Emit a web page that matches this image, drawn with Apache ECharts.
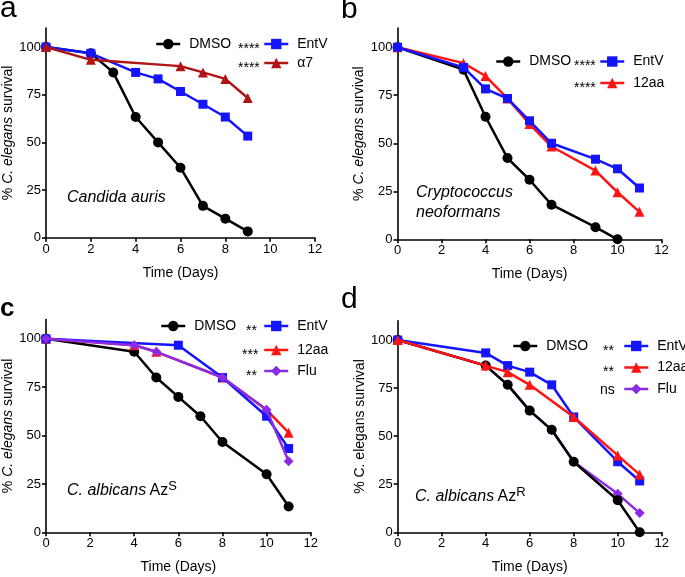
<!DOCTYPE html>
<html><head><meta charset="utf-8">
<script src="https://cdn.jsdelivr.net/npm/echarts@6/dist/echarts.min.js"></script>
<style>html,body{margin:0;padding:0;background:#fff}#c{width:685px;height:577px}</style>
</head><body><div id="c"></div>
<script>
// ---- tick labels ----
const xTicks = [0, 2, 4, 6, 8, 10, 12];
const yTicks = [0, 25, 50, 75, 100];

// ---- panel a : Candida auris ----
const aDmsoX = [0, 2, 3, 4, 5, 6, 7, 8, 9];
const aDmsoY = [100, 96.7, 86.7, 63.3, 50, 36.7, 16.7, 10, 3.3];
const aEntvX = [0, 2, 4, 5, 6, 7, 8, 9];
const aEntvY = [100, 96.7, 86.7, 83.3, 76.7, 70, 63.3, 53.3];
const aA7X = [0, 2, 6, 7, 8, 9];
const aA7Y = [100, 93.3, 90, 86.7, 83.3, 73.3];

// ---- panel b : Cryptococcus neoformans ----
const bDmsoX = [0, 3, 4, 5, 6, 7, 9, 10];
const bDmsoY = [100, 88.3, 63.8, 42.3, 31, 18, 6.3, 0];
const bEntvX = [0, 3, 4, 5, 6, 7, 9, 10, 11];
const bEntvY = [100, 89.5, 78.3, 73.3, 61.7, 50, 41.7, 36.7, 26.7];
const b12aaX = [0, 3, 4, 5, 6, 7, 9, 10, 11];
const b12aaY = [100, 91.7, 85, 73.3, 60, 48.3, 35.8, 24.5, 14.3];

// ---- panel c : C. albicans AzS ----
const cDmsoX = [0, 4, 5, 6, 7, 8, 10, 11];
const cDmsoY = [100, 93.3, 80, 70, 60, 46.7, 30, 13.3];
const cEntvX = [0, 6, 8, 10, 11];
const cEntvY = [100, 96.7, 80, 60, 43.3];
const c12aaX = [0, 4, 5, 8, 10, 11];
const c12aaY = [100, 96.7, 93.3, 80, 63.3, 51.5];
const cFluX = [0, 4, 5, 8, 10, 11];
const cFluY = [100, 96.7, 93.3, 80, 63.3, 36.7];

// ---- panel d : C. albicans AzR ----
const dDmsoX = [0, 4, 5, 6, 7, 8, 10, 11];
const dDmsoY = [100, 86.7, 76.7, 63.3, 53.3, 36.7, 16.7, 0];
const dEntvX = [0, 4, 5, 6, 7, 8, 10, 11];
const dEntvY = [100, 93.3, 86.7, 83.3, 76.7, 60, 36.7, 26.7];
const d12aaX = [0, 4, 5, 6, 8, 10, 11];
const d12aaY = [100, 86.7, 83.3, 76.7, 60, 40, 30];
const dFluX = [0, 4, 5, 6, 7, 8, 10, 11];
const dFluY = [100, 86.7, 76.7, 63.3, 53.3, 36.7, 20, 10];

const FONT = 'Liberation Sans, Arial, Helvetica, sans-serif';
const BLACK = '#000000', BLUE = '#1414ff', DARKRED = '#b01414', RED = '#ff1414', PURPLE = '#8c2be6';

const zip = (xs, ys) => xs.map((x, i) => [x, ys[i]]);

function series(name, xs, ys, idx, color, symbol, size, z) {
  return {
    name: name, type: 'line', xAxisIndex: idx, yAxisIndex: idx,
    data: zip(xs, ys), symbol: symbol, symbolSize: size, z: z,
    color: color, lineStyle: { color: color, width: 2.5 },
    itemStyle: { color: color }, animation: false, silent: true
  };
}

const grids = [
  { left: 43, top: 28, width: 272, height: 209.7 },
  { left: 397.5, top: 28, width: 264, height: 211.3 },
  { left: 45.7, top: 319.5, width: 265, height: 212.8 },
  { left: 397.7, top: 320.8, width: 264, height: 211.5 }
];

const axisLineStyle = { color: '#000', width: 1.6 };
const italicY = '% {i|C. elegans} survival';
const plainY = '% C. elegans survival';

const xAxes = grids.map((g, i) => ({
  type: 'value', gridIndex: i, min: 0, max: 12, interval: 2,
  name: 'Time (Days)', nameLocation: 'middle', nameGap: 28,
  nameTextStyle: { fontFamily: FONT, fontSize: 14, color: '#000' },
  axisLine: { show: true, onZero: false, lineStyle: axisLineStyle },
  axisTick: { show: true, length: 4, lineStyle: axisLineStyle },
  axisLabel: { fontFamily: FONT, fontSize: 13, color: '#000', margin: 5 },
  splitLine: { show: false }
}));

const yAxes = grids.map((g, i) => ({
  type: 'value', gridIndex: i, min: 0, max: 110,
  name: i === 3 ? plainY : italicY, nameLocation: 'middle', nameGap: 31,
  nameTextStyle: {
    fontFamily: FONT, fontSize: 14, color: '#000',
    rich: { i: { fontFamily: FONT, fontSize: 14, fontStyle: 'italic', color: '#000' } }
  },
  axisLine: { show: true, onZero: false, lineStyle: axisLineStyle },
  axisTick: { show: true, length: 4, lineStyle: axisLineStyle, customValues: yTicks },
  axisLabel: { fontFamily: FONT, fontSize: 13, color: '#000', margin: 5, customValues: yTicks },
  splitLine: { show: false }
}));

const allSeries = [
  series('DMSO', aDmsoX, aDmsoY, 0, BLACK, 'circle', 10, 3),
  series('EntV', aEntvX, aEntvY, 0, BLUE, 'rect', 9, 4),
  series('α7', aA7X, aA7Y, 0, DARKRED, 'triangle', 10, 5),

  series('DMSO', bDmsoX, bDmsoY, 1, BLACK, 'circle', 10, 3),
  series('12aa', b12aaX, b12aaY, 1, RED, 'triangle', 10, 4),
  series('EntV', bEntvX, bEntvY, 1, BLUE, 'rect', 9, 5),

  series('DMSO', cDmsoX, cDmsoY, 2, BLACK, 'circle', 10, 3),
  series('12aa', c12aaX, c12aaY, 2, RED, 'triangle', 10, 4),
  series('EntV', cEntvX, cEntvY, 2, BLUE, 'rect', 9, 5),
  series('Flu', cFluX, cFluY, 2, PURPLE, 'diamond', 10, 6),

  series('Flu', dFluX, dFluY, 3, PURPLE, 'diamond', 10, 2),
  series('DMSO', dDmsoX, dDmsoY, 3, BLACK, 'circle', 10, 3),
  series('EntV', dEntvX, dEntvY, 3, BLUE, 'rect', 9, 4),
  series('12aa', d12aaX, d12aaY, 3, RED, 'triangle', 10, 5)
];

function leg(name, left, rowY) {
  return {
    data: [name], left: left, top: rowY - 8, orient: 'horizontal', padding: 0,
    itemWidth: 24, itemHeight: 13, selectedMode: false,
    lineStyle: { width: 2.5 },
    textStyle: { fontFamily: FONT, fontSize: 14, color: '#000', padding: [0, 0, 0, 4] }
  };
}

const legends = [
  leg('DMSO', 155, 45), leg('EntV', 263, 45), leg('α7', 263, 64),
  leg('DMSO', 495, 62.5), leg('EntV', 599, 62.5), leg('12aa', 599, 84),
  leg('DMSO', 160, 327), leg('EntV', 263, 327), leg('12aa', 263, 351), leg('Flu', 263, 372),
  leg('DMSO', 512, 347), leg('EntV', 623, 347), leg('12aa', 623, 368.5), leg('Flu', 623, 390)
];

function txt(x, y, text, font, extra) {
  return Object.assign({ type: 'text', x: x, y: y, silent: true,
    style: Object.assign({ text: text, font: font, fill: '#000', verticalAlign: 'middle' }, extra || {}) });
}
const starFont = '14px ' + FONT;
const letterFont = '30px ' + FONT;
const annFont = 'italic 16px ' + FONT;

const graphics = [
  txt(0, 9, 'a', letterFont), txt(341, 9.5, 'b', letterFont),
  txt(0, 308.5, 'c', 'bold 26px ' + FONT), txt(341, 300, 'd', letterFont),
  txt(238, 49, '****', starFont), txt(238, 68, '****', starFont),
  txt(574, 66.5, '****', starFont), txt(574, 88, '****', starFont),
  txt(246, 331, '**', starFont), txt(242, 355, '***', starFont), txt(246, 376, '**', starFont),
  txt(603, 351, '**', starFont), txt(603, 372.5, '**', starFont),
  txt(600, 390, 'ns', '14px ' + FONT),
  txt(67, 198, 'Candida auris', annFont),
  txt(416, 193, 'Cryptococcus', annFont),
  txt(416, 212.5, 'neoformans', annFont),
  { type: 'text', x: 67, y: 491, silent: true, style: {
      text: '{i|C. albicans} {n|Az}{s|S}', verticalAlign: 'middle',
      rich: { i: { fontStyle: 'italic', fontSize: 16, fontFamily: FONT, fill: '#000', lineHeight: 22 },
              n: { fontSize: 16, fontFamily: FONT, fill: '#000', lineHeight: 22 },
              s: { fontSize: 13, fontFamily: FONT, fill: '#000', verticalAlign: 'top' } } } },
  { type: 'text', x: 415, y: 497, silent: true, style: {
      text: '{i|C. albicans} {n|Az}{s|R}', verticalAlign: 'middle',
      rich: { i: { fontStyle: 'italic', fontSize: 16, fontFamily: FONT, fill: '#000', lineHeight: 22 },
              n: { fontSize: 16, fontFamily: FONT, fill: '#000', lineHeight: 22 },
              s: { fontSize: 13, fontFamily: FONT, fill: '#000', verticalAlign: 'top' } } } }
];

const chart = echarts.init(document.getElementById('c'), null, { renderer: 'canvas' });
chart.setOption({
  backgroundColor: '#fff',
  animation: false,
  grid: grids,
  xAxis: xAxes,
  yAxis: yAxes,
  legend: legends,
  series: allSeries,
  graphic: graphics
});
</script>
</body></html>
